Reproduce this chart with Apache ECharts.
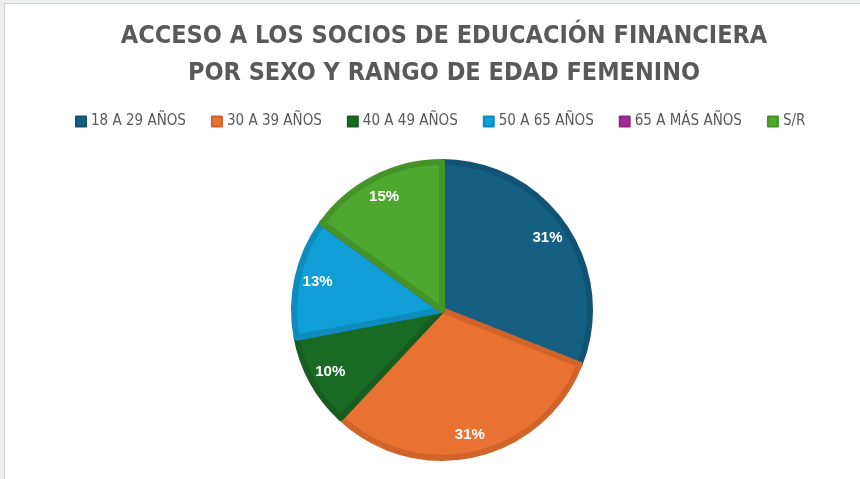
<!DOCTYPE html>
<html>
<head>
<meta charset="utf-8">
<script src="https://cdn.jsdelivr.net/npm/echarts@6/dist/echarts.min.js"></script>
<style>
  html, body { margin: 0; padding: 0; background: #eceff0; }
  #chart {
    position: absolute; left: 4px; top: 3px; width: 856px; height: 476px;
    background: #fff; border-left: 1px solid #cfd2d5; border-top: 1px solid #cfd2d5;
  }
</style>
</head>
<body>
<div id="chart"></div>
<script>
// Datos del gráfico
const categories = ['18 A 29 AÑOS', '30 A 39 AÑOS', '40 A 49 AÑOS', '50 A 65 AÑOS', '65 A MÁS AÑOS', 'S/R'];
const values = [31, 31, 10, 13, 0, 15];
const colors = ['#156082', '#e97132', '#196b24', '#0f9ed5', '#a02b93', '#4ea72e'];
const borderColors = ['#125373', '#d0642b', '#165d1f', '#0d8cbd', '#902784', '#44942a'];

const font = '"Liberation Sans Narrow", "DejaVu Sans Condensed", sans-serif';

const chart = echarts.init(document.getElementById('chart'));

const pieData = categories.map((name, i) => ({
  name,
  value: values[i],
  itemStyle: { color: colors[i], borderColor: borderColors[i] }
}));

chart.setOption({
  animation: false,
  color: colors,
  title: {
    text: 'ACCESO A LOS SOCIOS DE EDUCACIÓN FINANCIERA\nPOR SEXO Y RANGO DE EDAD FEMENINO',
    left: 434,
    top: 9,
    textAlign: 'center',
    textStyle: {
      fontFamily: font,
      fontSize: 25,
      fontWeight: 'bold',
      color: '#595959',
      lineHeight: 37
    }
  },
  legend: {
    top: 105,
    left: 65,
    itemWidth: 10,
    itemHeight: 10,
    itemGap: 25,
    icon: 'rect',
    data: categories,
    textStyle: { fontFamily: font, fontSize: 15, color: '#595959' }
  },
  series: [
    {
      type: 'pie',
      center: [437, 306],
      radius: 148,
      startAngle: 90,
      clockwise: true,
      label: { show: false },
      labelLine: { show: false },
      itemStyle: { borderWidth: 6 },
      emphasis: { disabled: true },
      data: pieData
    },
    {
      // serie transparente solo para ubicar las etiquetas
      type: 'pie',
      center: [437, 306],
      radius: [98, 151],
      startAngle: 90,
      clockwise: true,
      silent: true,
      itemStyle: { color: 'transparent' },
      labelLine: { show: false },
      label: {
        position: 'inside',
        formatter: p => (p.value > 0 ? p.value + '%' : ''),
        color: '#fff',
        fontWeight: 'bold',
        fontSize: 15,
        fontFamily: '"Liberation Sans", Arial, sans-serif'
      },
      emphasis: { disabled: true },
      data: categories.map((name, i) => ({ name, value: values[i] })),
      legendHoverLink: false
    }
  ]
});
</script>
</body>
</html>
